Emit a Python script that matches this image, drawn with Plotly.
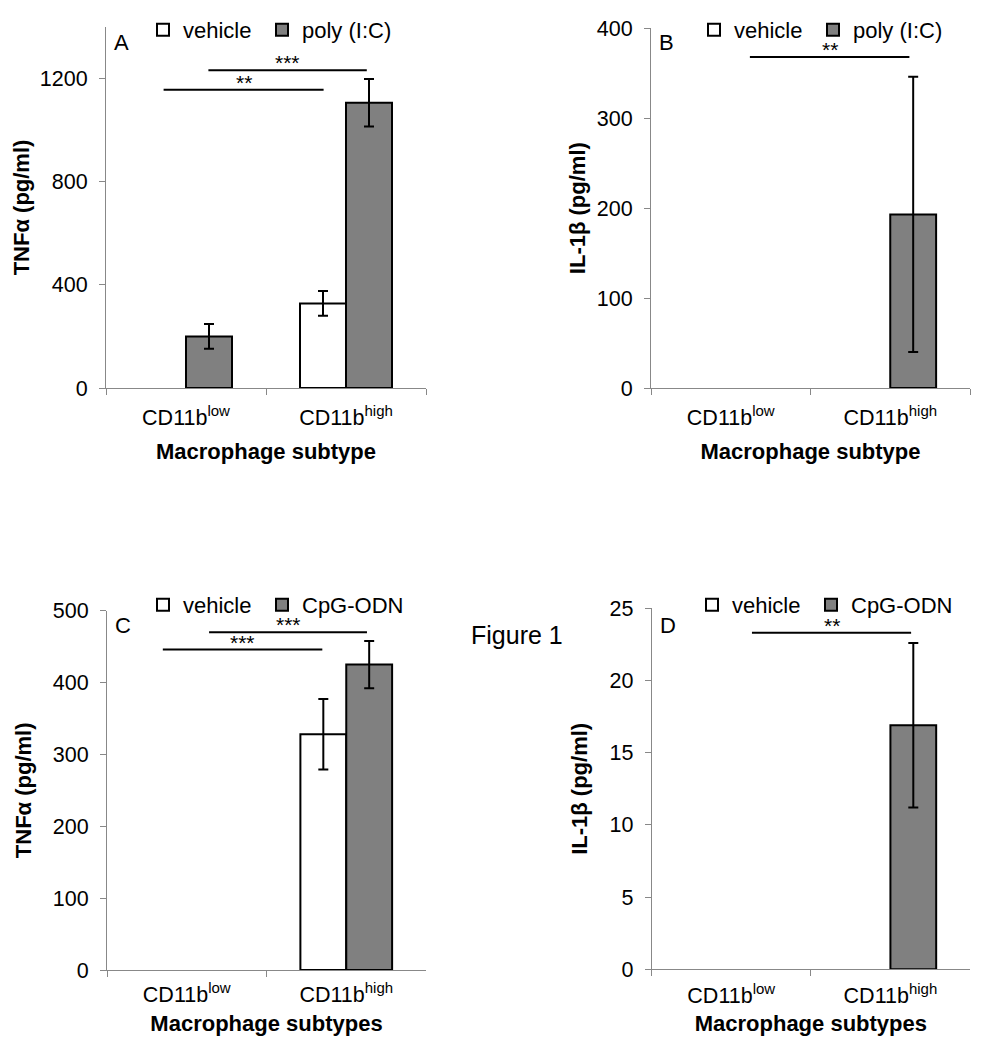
import plotly.graph_objects as go

# ---------------- data ----------------
categories = ["CD11b<sup><span style='font-size:15px'>low</span></sup>",
              "CD11b<sup><span style='font-size:15px'>high</span></sup>"]

# Panel A : TNFα after poly (I:C)
a_vehicle = [0, 328]
a_vehicle_err = [0, 48]
a_treat = [200, 1106]
a_treat_err = [48, 92]

# Panel B : IL-1β after poly (I:C)
b_vehicle = [0, 0]
b_vehicle_err = [0, 0]
b_treat = [0, 193]
b_treat_err = [0, 153]

# Panel C : TNFα after CpG-ODN
c_vehicle = [0, 328]
c_vehicle_err = [0, 49]
c_treat = [0, 425]
c_treat_err = [0, 33]

# Panel D : IL-1β after CpG-ODN
d_vehicle = [0, 0]
d_vehicle_err = [0, 0]
d_treat = [0, 16.9]
d_treat_err = [0, 5.7]

# significance brackets: (x start, x end, y level, label) in category units
sig_a = [(-0.14, 0.86, 1157, "**"), (0.14, 1.13, 1232, "***")]
sig_b = [(0.12, 1.12, 368, "**")]
sig_c = [(-0.15, 0.85, 446, "***"), (0.14, 1.13, 470, "***")]
sig_d = [(0.13, 1.13, 23.3, "**")]

W, H = 989, 1050
OFF = 8  # page body margin offset
FONT = "Liberation Sans, Arial, sans-serif"
AXC = "#888888"
GREY = "#808080"

panels = [
    dict(key="A", box=(106, 426, 27, 388), yr=[0, 1400], ytv=[0, 400, 800, 1200],
         veh=a_vehicle, veh_err=a_vehicle_err, tr=a_treat, tr_err=a_treat_err,
         trname="poly (I:C)", ytitle="TNFα (pg/ml)", xtitle="Macrophage subtype",
         sig=sig_a, leg=(143, 30), letter=(112, 43), xso=10, xts=14, yts=4),
    dict(key="B", box=(651, 970, 28.3, 388), yr=[0, 400], ytv=[0, 100, 200, 300, 400],
         veh=b_vehicle, veh_err=b_vehicle_err, tr=b_treat, tr_err=b_treat_err,
         trname="poly (I:C)", ytitle="IL-1β (pg/ml)", xtitle="Macrophage subtype",
         sig=sig_b, leg=(694, 30), letter=(657, 43), xso=10, xts=14, yts=5),
    dict(key="C", box=(107, 426, 610.7, 970), yr=[0, 500], ytv=[0, 100, 200, 300, 400, 500],
         veh=c_vehicle, veh_err=c_vehicle_err, tr=c_treat, tr_err=c_treat_err,
         trname="CpG-ODN", ytitle="TNFα (pg/ml)", xtitle="Macrophage subtypes",
         sig=sig_c, leg=(143, 605), letter=(113, 625), xso=5, xts=9, yts=15),
    dict(key="D", box=(651.7, 970, 608.3, 969.3), yr=[0, 25], ytv=[0, 5, 10, 15, 20, 25],
         veh=d_vehicle, veh_err=d_vehicle_err, tr=d_treat, tr_err=d_treat_err,
         trname="CpG-ODN", ytitle="IL-1β (pg/ml)", xtitle="Macrophage subtypes",
         sig=sig_d, leg=(692, 605), letter=(658, 625), xso=7, xts=8, yts=15),
]


def nz(vals):
    return [v if v != 0 else None for v in vals]


def px(x):
    return (x - OFF) / W


def py(y):
    return 1 - (y - OFF) / H


fig = go.Figure()
shapes = []
annotations = []
layout = {}

for i, p in enumerate(panels):
    n = "" if i == 0 else str(i + 1)
    xa, ya = "x" + n, "y" + n
    lg = "legend" + n
    x0, x1, yt, yb = p["box"]

    fig.add_trace(go.Bar(
        x=categories, y=nz(p["veh"]), name="vehicle", xaxis=xa, yaxis=ya, legend=lg,
        legendwidth=74,
        marker=dict(color="white", line=dict(color="black", width=2)),
        error_y=dict(type="data", array=nz(p["veh_err"]), color="black", thickness=2, width=5),
    ))
    fig.add_trace(go.Bar(
        x=categories, y=nz(p["tr"]), name=p["trname"], xaxis=xa, yaxis=ya, legend=lg,
        marker=dict(color=GREY, line=dict(color="black", width=2)),
        error_y=dict(type="data", array=nz(p["tr_err"]), color="black", thickness=2, width=5),
    ))

    layout["xaxis" + n] = dict(
        domain=[px(x0), px(x1)], anchor=ya, type="category", categoryorder="array",
        categoryarray=categories, range=[-0.5, 1.5], tickson="boundaries",
        ticks="outside", ticklen=6, tickcolor=AXC, showline=True, linecolor=AXC,
        linewidth=1, showgrid=False, zeroline=False, automargin=True,
        ticklabelstandoff=p["xso"],
        tickfont=dict(size=21.5, color="black", family=FONT),
        title=dict(text=p["xtitle"],
                   font=dict(size=22, color="black", family=FONT, weight="bold"),
                   standoff=p["xts"]),
    )
    layout["yaxis" + n] = dict(
        domain=[py(yb), py(yt)], anchor=xa, range=p["yr"], tickvals=p["ytv"],
        ticks="outside", ticklen=6, tickcolor=AXC, showline=True, linecolor=AXC,
        linewidth=1, showgrid=False, zeroline=False, automargin=True,
        ticklabelstandoff=7,
        tickfont=dict(size=21.5, color="black", family=FONT),
        title=dict(text=p["ytitle"],
                   font=dict(size=22, color="black", family=FONT, weight="bold"),
                   standoff=p["yts"]),
    )
    layout[lg] = dict(
        orientation="h", x=px(p["leg"][0]), y=py(p["leg"][1]), xanchor="left",
        yanchor="middle", font=dict(size=22, color="black", family=FONT),
        bgcolor="rgba(0,0,0,0)", traceorder="normal",
    )

    for sx0, sx1, sy, lab in p["sig"]:
        shapes.append(dict(type="line", xref=xa, yref=ya, x0=sx0, x1=sx1, y0=sy, y1=sy,
                           line=dict(color="black", width=2)))
        annotations.append(dict(x=(sx0 + sx1) / 2, y=sy, xref=xa, yref=ya, text=lab,
                                showarrow=False, yanchor="bottom", yshift=-6,
                                font=dict(size=21, color="black", family=FONT)))

    annotations.append(dict(x=px(p["letter"][0]), y=py(p["letter"][1]), xref="paper",
                            yref="paper", text=p["key"], showarrow=False, xanchor="left",
                            yanchor="middle", font=dict(size=22, color="black", family=FONT)))

annotations.append(dict(x=px(517), y=py(635), xref="paper", yref="paper", text="Figure 1",
                        showarrow=False, xanchor="center", yanchor="middle",
                        font=dict(size=25, color="black", family=FONT)))

fig.update_layout(
    width=W, height=H, autosize=False,
    margin=dict(l=0, r=0, t=0, b=0, pad=0, autoexpand=False),
    paper_bgcolor="white", plot_bgcolor="white",
    barmode="group", bargap=0.425, bargroupgap=0,
    font=dict(family=FONT, color="black"),
    shapes=shapes, annotations=annotations,
    **layout,
)

fig.write_html("out.html")
